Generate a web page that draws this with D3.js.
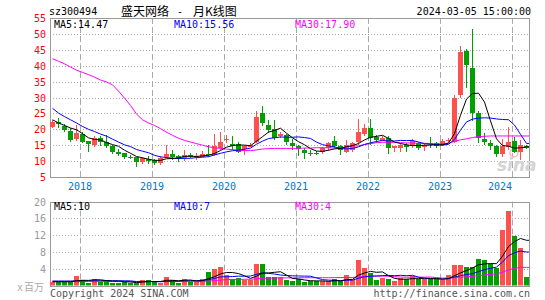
<!DOCTYPE html>
<html>
<head>
<meta charset="utf-8">
<script src="https://cdn.jsdelivr.net/npm/d3@7"></script>
<style>
  html, body { margin: 0; padding: 0; background: #fff; }
  svg text { font-family: 'DejaVu Sans Mono', monospace; font-size: 10px; }
</style>
</head>
<body>
<div id="visualization"></div>
<script>
const months = [
  '2017-08', '2017-09', '2017-10', '2017-11', '2017-12',
  '2018-01', '2018-02', '2018-03', '2018-04', '2018-05', '2018-06', '2018-07', '2018-08', '2018-09', '2018-10', '2018-11', '2018-12',
  '2019-01', '2019-02', '2019-03', '2019-04', '2019-05', '2019-06', '2019-07', '2019-08', '2019-09', '2019-10', '2019-11', '2019-12',
  '2020-01', '2020-02', '2020-03', '2020-04', '2020-05', '2020-06', '2020-07', '2020-08', '2020-09', '2020-10', '2020-11', '2020-12',
  '2021-01', '2021-02', '2021-03', '2021-04', '2021-05', '2021-06', '2021-07', '2021-08', '2021-09', '2021-10', '2021-11', '2021-12',
  '2022-01', '2022-02', '2022-03', '2022-04', '2022-05', '2022-06', '2022-07', '2022-08', '2022-09', '2022-10', '2022-11', '2022-12',
  '2023-01', '2023-02', '2023-03', '2023-04', '2023-05', '2023-06', '2023-07', '2023-08', '2023-09', '2023-10', '2023-11', '2023-12',
  '2024-01', '2024-02', '2024-03'];

const openPrices = [20.8, 22.3, 21.1, 19.6, 16.8, 18.6, 16.2, 15.1, 17.3, 15.9,
  14.8, 13.0, 12.4, 11.4, 11.2, 9.6, 10.8, 10.2, 9.4, 11.1,
  12.2, 11.7, 10.9, 11.9, 11.3, 11.4, 12.2, 12.0, 14.0, 16.8,
  15.4, 15.3, 13.6, 14.6, 16.2, 25.1, 21.4, 20.2, 17.8, 18.3,
  15.7, 14.9, 13.6, 12.6, 12.5, 12.8, 14.1, 16.2, 14.6, 13.0,
  13.6, 15.7, 18.4, 20.3, 17.6, 16.4, 17.2, 14.1, 14.2, 15.1,
  14.6, 15.7, 14.3, 15.6, 15.7, 15.1, 16.5, 16.2, 30.8, 44.7,
  39.3, 25.1, 16.9, 15.8, 14.6, 12.0, 14.6, 16.4, 12.9, 14.6];
const highPrices = [22.8, 23.7, 21.6, 20.4, 21.5, 19.0, 16.3, 17.8, 17.8, 18.3,
  15.1, 13.8, 12.7, 11.9, 11.4, 11.4, 11.7, 10.6, 11.5, 15.1,
  13.6, 12.0, 13.6, 12.5, 12.7, 13.2, 15.2, 18.5, 19.3, 18.1,
  17.8, 16.1, 15.1, 15.6, 25.8, 27.4, 22.9, 22.9, 19.1, 18.5,
  17.0, 15.1, 14.1, 13.6, 13.3, 14.3, 15.9, 17.8, 15.1, 16.7,
  15.9, 23.3, 21.6, 23.3, 18.1, 18.0, 17.8, 14.8, 15.7, 15.7,
  17.0, 16.0, 15.5, 17.7, 16.0, 16.8, 17.3, 30.8, 46.3, 45.2,
  51.6, 25.8, 18.7, 16.7, 15.2, 17.0, 20.7, 17.7, 16.6, 15.0];
const lowPrices = [20.4, 20.4, 19.3, 16.1, 16.4, 15.7, 12.8, 14.4, 14.8, 14.1,
  12.2, 11.7, 10.6, 10.7, 8.3, 9.1, 9.1, 8.8, 8.8, 11.0,
  10.5, 9.6, 9.9, 10.9, 10.3, 11.2, 11.4, 11.7, 13.5, 15.7,
  13.6, 12.5, 12.0, 14.3, 15.7, 20.9, 18.9, 16.7, 17.4, 15.0,
  13.6, 11.7, 10.7, 11.7, 11.8, 12.2, 13.2, 14.1, 12.0, 12.7,
  13.0, 15.1, 17.8, 15.1, 15.7, 16.2, 12.3, 13.0, 12.8, 13.0,
  14.0, 13.6, 13.3, 14.1, 14.0, 14.6, 16.0, 15.8, 30.0, 33.0,
  22.5, 15.6, 15.0, 13.6, 11.3, 11.4, 13.6, 12.5, 10.4, 13.8];
const closePrices = [22.3, 21.6, 19.9, 16.7, 18.8, 16.1, 15.1, 17.4, 15.9, 14.6,
  13.0, 12.4, 11.2, 11.1, 9.6, 10.9, 10.2, 9.4, 11.0, 12.2,
  11.3, 10.9, 12.0, 11.4, 11.7, 12.2, 11.8, 14.9, 16.0, 17.0,
  14.7, 12.8, 14.6, 15.1, 24.0, 21.9, 19.9, 17.4, 18.5, 16.2,
  14.6, 13.9, 12.5, 12.4, 12.4, 14.1, 15.7, 14.6, 13.2, 15.1,
  15.7, 19.0, 20.3, 17.3, 16.6, 17.4, 14.0, 14.6, 15.1, 14.5,
  16.2, 14.1, 15.0, 15.4, 14.8, 16.4, 16.7, 30.0, 44.3, 40.2,
  25.1, 17.2, 16.0, 14.7, 12.0, 14.6, 16.1, 13.0, 15.2, 14.0];

const ma5 = [23.0, 22.0, 21.2, 20.4, 19.86, 18.62, 17.32, 16.82, 16.66, 15.82,
  15.2, 14.66, 13.42, 12.46, 11.46, 11.04, 10.6, 10.24, 10.22, 10.74,
  10.82, 10.96, 11.48, 11.56, 11.46, 11.64, 11.82, 12.4, 13.32, 14.38,
  14.88, 15.08, 15.02, 14.84, 16.24, 17.68, 19.1, 19.66, 20.34, 18.78,
  17.32, 16.12, 15.14, 13.92, 13.16, 13.06, 13.42, 13.84, 14.0, 14.54,
  14.86, 15.52, 16.66, 17.48, 17.78, 18.12, 17.12, 15.98, 15.54, 15.12,
  14.88, 14.9, 14.98, 15.04, 15.1, 15.14, 15.66, 18.66, 24.44, 29.52,
  31.26, 31.36, 28.56, 22.64, 17.0, 14.9, 14.68, 14.08, 14.18, 14.47];
const ma10 = [26.6, 25.1, 24.0, 23.0, 22.0, 20.9, 20.0, 19.3, 18.5, 17.84,
  16.91, 15.99, 15.12, 14.56, 13.64, 13.12, 12.63, 11.83, 11.34, 11.1,
  10.93, 10.78, 10.86, 10.89, 11.1, 11.23, 11.39, 11.94, 12.44, 12.92,
  13.26, 13.45, 13.71, 14.08, 15.31, 16.28, 17.09, 17.34, 17.59, 17.51,
  17.5, 17.61, 17.4, 17.13, 15.97, 15.19, 14.77, 14.49, 13.96, 13.85,
  13.96, 14.47, 15.25, 15.74, 16.16, 16.49, 16.32, 16.32, 16.51, 16.45,
  16.5, 16.01, 15.48, 15.29, 15.11, 15.01, 15.28, 16.82, 19.74, 22.31,
  23.2, 23.51, 23.61, 23.54, 23.26, 23.08, 23.02, 21.32, 18.41, 15.56];
const ma30 = [42.2, 41.4, 40.6, 39.6, 38.6, 37.9, 37.2, 36.4, 35.5, 34.9,
  34.0, 32.0, 29.8, 27.5, 24.8, 23.0, 22.0, 21.2, 20.2, 19.1,
  18.1, 17.2, 16.5, 16.0, 15.5, 15.0, 14.5, 14.2, 14.0, 13.8,
  13.6, 13.4, 13.3, 13.3, 13.5, 13.8, 13.9, 14.0, 14.0, 14.0,
  14.0, 14.0, 14.1, 14.1, 14.2, 14.2, 14.2, 14.1, 14.2, 14.4,
  14.7, 14.8, 15.2, 15.5, 15.8, 15.9, 15.9, 15.9, 15.8, 15.7,
  15.7, 15.6, 15.6, 15.5, 15.4, 15.5, 15.6, 16.2, 16.7, 17.0,
  17.4, 17.7, 17.8, 17.9, 17.9, 17.9, 17.9, 17.9, 17.9, 17.9];

// volume, millions of shares
const volumes = [0.9, 0.8, 0.9, 0.9, 2.3, 1.3, 0.7, 1.6, 0.9, 1.3,
  0.7, 0.7, 0.8, 0.7, 0.55, 1.3, 1.3, 0.9, 0.7, 2.0,
  1.3, 0.7, 1.6, 0.9, 0.9, 1.6, 3.1, 3.9, 4.4, 2.5,
  1.5, 1.9, 1.3, 1.3, 5.1, 5.1, 2.1, 2.1, 2.0, 1.2,
  1.0, 1.5, 0.9, 1.1, 1.0, 1.0, 1.0, 1.6, 1.0, 2.4,
  1.3, 6.0, 4.2, 2.9, 1.3, 1.8, 1.5, 1.0, 1.8, 1.5,
  2.3, 1.5, 1.6, 1.5, 1.5, 1.3, 2.4, 5.0, 4.8, 4.3,
  4.4, 6.2, 6.0, 5.2, 4.2, 13.3, 17.7, 11.8, 9.0, 2.0];
const volMa5 = [0.9, 0.9, 0.9, 0.9, 1.16, 1.24, 1.22, 1.36, 1.36, 1.16,
  1.04, 1.04, 0.88, 0.84, 0.69, 0.81, 0.93, 0.95, 0.95, 1.24,
  1.24, 1.12, 1.26, 1.3, 1.08, 1.14, 1.62, 2.08, 2.78, 3.1,
  3.08, 2.84, 2.32, 1.7, 2.22, 2.94, 2.98, 3.14, 3.28, 2.5,
  1.68, 1.56, 1.32, 1.14, 1.1, 1.1, 1.0, 1.14, 1.12, 1.4,
  1.46, 2.46, 2.98, 3.36, 3.14, 3.24, 2.34, 1.7, 1.48, 1.52,
  1.62, 1.62, 1.74, 1.68, 1.68, 1.48, 1.66, 2.34, 3.0, 3.56,
  4.18, 4.94, 5.14, 5.22, 5.2, 6.98, 9.28, 10.44, 11.2, 10.76];
const volMa10 = [1.05, 1.05, 1.05, 1.05, 1.05, 1.08, 1.1, 1.12, 1.14, 1.16,
  1.14, 1.13, 1.12, 1.1, 0.93, 0.93, 0.99, 0.92, 0.9, 0.97,
  1.03, 1.03, 1.1, 1.13, 1.16, 1.19, 1.37, 1.67, 2.04, 2.09,
  2.11, 2.23, 2.2, 2.24, 2.66, 3.01, 2.91, 2.73, 2.49, 2.36,
  2.31, 2.27, 2.23, 2.21, 1.8, 1.39, 1.28, 1.23, 1.13, 1.25,
  1.28, 1.73, 2.06, 2.24, 2.27, 2.35, 2.4, 2.34, 2.42, 2.33,
  2.43, 1.98, 1.72, 1.58, 1.6, 1.55, 1.64, 2.04, 2.34, 2.62,
  2.83, 3.3, 3.74, 4.11, 4.38, 5.58, 7.11, 7.79, 8.21, 7.98];
const volMa30 = [1.0, 1.0, 1.0, 1.0, 1.0, 1.0, 1.0, 1.0, 1.0, 0.98,
  0.98, 0.98, 0.97, 0.97, 0.96, 0.96, 0.96, 0.96, 0.96, 0.97,
  0.97, 0.97, 0.98, 0.98, 0.98, 0.99, 1.05, 1.15, 1.28, 1.41,
  1.43, 1.46, 1.48, 1.49, 1.58, 1.71, 1.76, 1.77, 1.81, 1.81,
  1.82, 1.84, 1.85, 1.86, 1.87, 1.86, 1.85, 1.88, 1.89, 1.9,
  1.9, 2.08, 2.16, 2.23, 2.24, 2.25, 2.2, 2.1, 2.01, 1.98,
  2.01, 1.99, 2.0, 2.01, 1.89, 1.76, 1.77, 1.87, 1.96, 2.07,
  2.18, 2.34, 2.51, 2.64, 2.75, 3.16, 3.72, 4.06, 4.32, 4.31];

const yearTicks = ['2018', '2019', '2020', '2021', '2022', '2023', '2024'];
const priceTicks = [5, 10, 15, 20, 25, 30, 35, 40, 45, 50, 55];
const volTicks = [4, 8, 12, 16, 20];

const priceLegend = [['MA5:14.47', '#000'], ['MA10:15.56', '#0000ff'], ['MA30:17.90', '#ff00ff']];
const volLegend = [['MA5:10', '#000'], ['MA10:7', '#0000ff'], ['MA30:4', '#ff00ff']];

class MonthlyKChart {
  width = 545;

  height = 300;

  left = 50;

  right = 530;

  priceTop = 18;

  priceBottom = 177;

  volTop = 201.5;

  volBottom = 285.5;

  barWidth = 5;

  upColor = '#ff5050';

  downColor = '#00a000';

  createSvg() {
    this.svg = d3.select('#visualization')
      .append('svg')
      .attr('width', this.width)
      .attr('height', this.height);
  }

  getScales() {
    this.x = d3.scaleBand().domain(months).range([this.left, this.right]);
    this.y = d3.scaleLinear().domain([5, 55]).range([this.priceBottom, this.priceTop]);
    this.yVol = d3.scaleLinear().domain([0, 20]).range([this.volBottom, this.volTop]);
  }

  drawGrid(yScale, ticks, top, bottom) {
    const g = this.svg.append('g');
    g.selectAll('line.h')
      .data(ticks)
      .enter()
      .append('line')
      .attr('x1', this.left)
      .attr('x2', this.right)
      .attr('y1', (d) => Math.round(yScale(d)) + 0.5)
      .attr('y2', (d) => Math.round(yScale(d)) + 0.5)
      .attr('stroke', '#aaa')
      .attr('stroke-dasharray', '1,2');

    g.selectAll('line.v')
      .data(yearTicks)
      .enter()
      .append('line')
      .attr('x1', (d) => this.x(`${d}-01`) + 0.5)
      .attr('x2', (d) => this.x(`${d}-01`) + 0.5)
      .attr('y1', top)
      .attr('y2', bottom)
      .attr('stroke', '#aaa')
      .attr('stroke-dasharray', '6,3');

    g.append('rect')
      .attr('x', this.left + 0.5)
      .attr('y', Math.round(top) + 0.5)
      .attr('width', this.right - this.left - 1)
      .attr('height', Math.round(bottom) - Math.round(top))
      .attr('fill', 'none')
      .attr('stroke', '#999');
  }

  drawCandles() {
    const g = this.svg.append('g');
    const color = (i) => (closePrices[i] >= openPrices[i] ? this.upColor : this.downColor);

    g.selectAll('line')
      .data(months)
      .enter()
      .append('line')
      .attr('x1', (d) => this.x(d) + 2.5)
      .attr('x2', (d) => this.x(d) + 2.5)
      .attr('y1', (d, i) => Math.round(this.y(highPrices[i])))
      .attr('y2', (d, i) => Math.round(this.y(lowPrices[i])))
      .attr('stroke', (d, i) => color(i));

    g.selectAll('rect')
      .data(months)
      .enter()
      .append('rect')
      .attr('x', (d) => this.x(d))
      .attr('width', this.barWidth)
      .attr('y', (d, i) => Math.round(this.y(Math.max(openPrices[i], closePrices[i]))))
      .attr('height', (d, i) => Math.max(1, Math.round(Math.abs(this.y(openPrices[i]) - this.y(closePrices[i])))))
      .attr('fill', (d, i) => color(i));
  }

  drawVolume() {
    this.svg.append('g').selectAll('rect')
      .data(volumes)
      .enter()
      .append('rect')
      .attr('x', (d, i) => this.x(months[i]))
      .attr('width', this.barWidth)
      .attr('y', (d) => Math.round(this.yVol(d)))
      .attr('height', (d) => this.volBottom - Math.round(this.yVol(d)))
      .attr('fill', (d, i) => (closePrices[i] >= openPrices[i] ? this.upColor : this.downColor));
  }

  drawLine(values, yScale, color) {
    const pts = values.map((v, i) => [this.x(months[i]) + 2.5, yScale(v)]);
    pts.push([this.right - 1, yScale(values[values.length - 1])]);
    this.svg.append('path')
      .datum(pts)
      .attr('d', d3.line())
      .attr('fill', 'none')
      .attr('stroke', color)
      .attr('stroke-width', 1);
  }

  drawTexts() {
    const s = this.svg;
    s.append('text').attr('x', 49).attr('y', 14.5).text('sz300494');
    s.append('text').attr('x', 121).attr('y', 15.5)
      .style('font-family', "'Noto Sans CJK SC', sans-serif").style('font-size', '12px').text('盛天网络');
    s.append('text').attr('x', 177).attr('y', 14.5).text('-');
    s.append('text').attr('x', 193).attr('y', 15.5)
      .style('font-family', "'Noto Sans CJK SC', sans-serif").style('font-size', '12px').text('月K线图');
    s.append('text').attr('x', 531).attr('y', 14.5).attr('text-anchor', 'end').text('2024-03-05 15:00:00');

    s.selectAll('text.price')
      .data(priceTicks)
      .enter()
      .append('text')
      .attr('x', 46)
      .attr('y', (d) => this.y(d) + 4)
      .attr('text-anchor', 'end')
      .attr('fill', '#f00')
      .text((d) => d);

    s.selectAll('text.vol')
      .data(volTicks)
      .enter()
      .append('text')
      .attr('x', 46)
      .attr('y', (d) => this.yVol(d) + 4)
      .attr('text-anchor', 'end')
      .attr('fill', '#999')
      .text((d) => d);

    s.selectAll('text.year')
      .data(yearTicks)
      .enter()
      .append('text')
      .attr('x', (d) => Math.min(this.x(`${d}-01`), 500))
      .attr('y', 190)
      .attr('text-anchor', 'middle')
      .attr('fill', '#0077cc')
      .text((d) => d);

    const legendX = [54, 174, 295];
    priceLegend.forEach(([t, c], i) => {
      s.append('text').attr('x', legendX[i]).attr('y', 28).attr('fill', c).text(t);
    });
    volLegend.forEach(([t, c], i) => {
      s.append('text').attr('x', legendX[i]).attr('y', 210).attr('fill', c).text(t);
    });

    s.append('text').attr('x', 17).attr('y', 291).attr('fill', '#aaa').text('x');
    s.append('text').attr('x', 24).attr('y', 291).attr('fill', '#aaa')
      .style('font-family', "'Noto Sans CJK SC', sans-serif").style('font-size', '10px').text('百万');
    s.append('text').attr('x', 50).attr('y', 297).attr('fill', '#555').text('Copyright 2024 SINA.COM');
    s.append('text').attr('x', 530).attr('y', 297).attr('text-anchor', 'end').attr('fill', '#555')
      .text('http://finance.sina.com.cn');

    // sina watermark
    s.append('circle').attr('cx', 514).attr('cy', 153).attr('r', 4)
      .attr('fill', 'none').attr('stroke', '#f4b8b8').attr('stroke-width', 1.5);
    s.append('text').attr('x', 497).attr('y', 171)
      .style('font-family', "'DejaVu Sans', sans-serif").style('font-size', '17px')
      .style('font-style', 'italic').style('font-weight', 'bold')
      .attr('fill', '#d4d4d4').text('sina');
  }

  draw() {
    d3.select('#visualization').html('');
    this.createSvg();
    this.getScales();
    this.drawGrid(this.y, priceTicks.slice(1, -1), this.priceTop, this.priceBottom);
    this.drawGrid(this.yVol, volTicks.slice(0, -1), this.volTop, this.volBottom);
    this.drawTexts();
    this.drawCandles();
    this.drawVolume();
    this.drawLine(ma30, this.y, '#ff00ff');
    this.drawLine(ma10, this.y, '#0000ff');
    this.drawLine(ma5, this.y, '#000');
    this.drawLine(volMa30, this.yVol, '#ff00ff');
    this.drawLine(volMa10, this.yVol, '#0000ff');
    this.drawLine(volMa5, this.yVol, '#000');
  }
}

new MonthlyKChart().draw();
</script>
</body>
</html>
